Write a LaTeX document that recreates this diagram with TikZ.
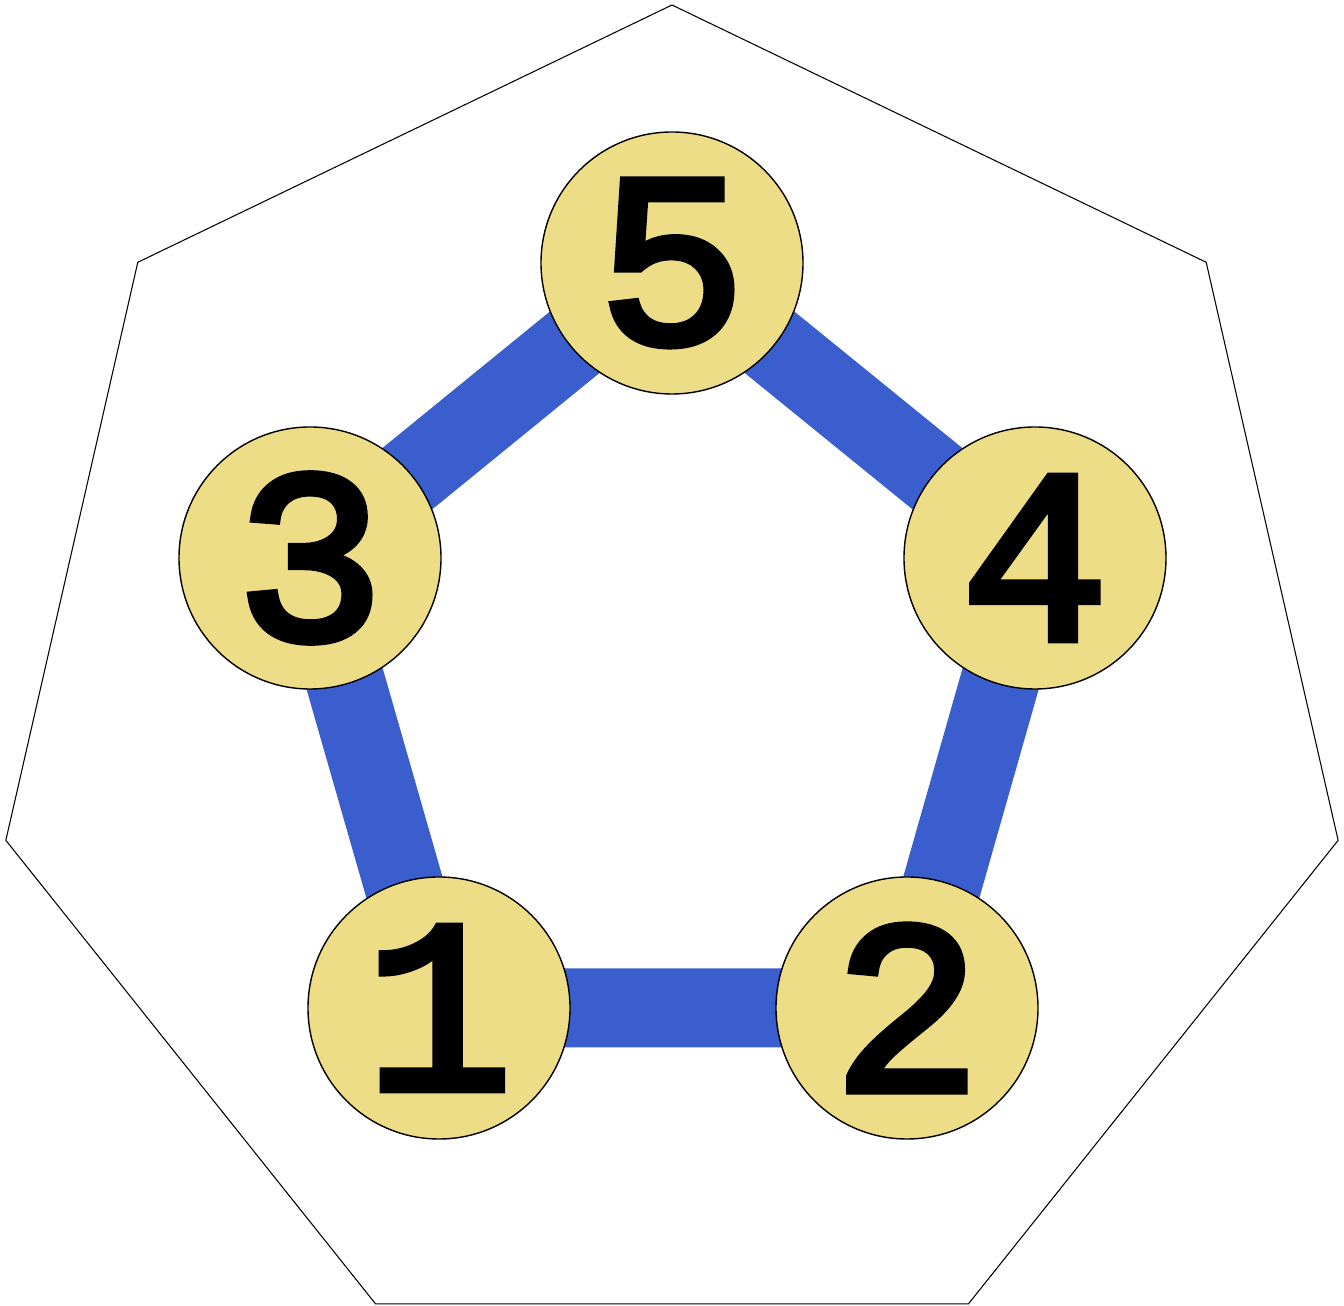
\documentclass[tikz,border=0pt]{standalone}
\usepackage{fontspec}
\usetikzlibrary{shapes.geometric}
\newfontfamily\digitfont{Liberation Mono}[FakeBold=3.5]
\definecolor{vertexfill}{RGB}{238,221,135}
\definecolor{edgeblue}{RGB}{58,94,206}

\begin{document}
\begin{tikzpicture}[vertex/.style={circle, draw=black, line width=0.4pt, fill=vertexfill, minimum size=2.62cm, inner sep=0pt, font=\digitfont\fontsize{70}{70}\selectfont}, link/.style={draw=edgeblue, line width=0.79cm}]
			\useasboundingbox (0,0) rectangle (13.44,-13.06);
			\node[draw, line width=0.3pt, regular polygon, regular polygon sides=7, minimum size=13.666cm, inner sep=0pt] (frame) at (6.72,-6.883) {};
			\coordinate (p1) at (4.39,-10.08);
			\coordinate (p2) at (9.07,-10.08);
			\coordinate (p3) at (3.10,-5.58);
			\coordinate (p4) at (10.35,-5.58);
			\coordinate (p5) at (6.72,-2.63);
			\draw[link] (p1) -- (p2) -- (p4) -- (p5) -- (p3) -- cycle;
			\node[vertex] (v1) at (p1) {1};
			\node[vertex] (v2) at (p2) {2};
			\node[vertex] (v3) at (p3) {3};
			\node[vertex] (v4) at (p4) {4};
			\node[vertex] (v5) at (p5) {5};
			\end{tikzpicture}
\end{document}
